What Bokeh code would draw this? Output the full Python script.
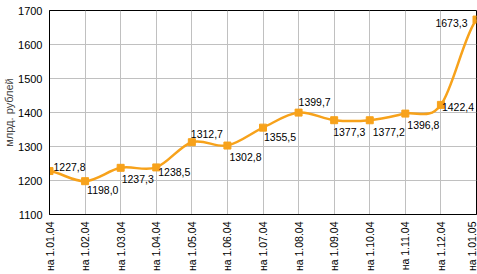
import numpy as np
from bokeh.plotting import figure
from bokeh.models import ColumnDataSource, FixedTicker, Range1d
from bokeh.core.properties import value
from bokeh.embed import file_html
from bokeh.resources import INLINE

dates = ["на 1.01.04", "на 1.02.04", "на 1.03.04", "на 1.04.04", "на 1.05.04",
         "на 1.06.04", "на 1.07.04", "на 1.08.04", "на 1.09.04", "на 1.10.04",
         "на 1.11.04", "на 1.12.04", "на 1.01.05"]
values = [1227.8, 1198.0, 1237.3, 1238.5, 1312.7, 1302.8, 1355.5,
          1399.7, 1377.3, 1377.2, 1396.8, 1422.4, 1673.3]
y_ticks = [1100, 1200, 1300, 1400, 1500, 1600, 1700]

# label placement (screen px offsets)
lab_dx = [4, 2, 1, 2, -1, 2, 1, 0, -1, 3, 2, 1, -9]
lab_dy = [-4, 9, 11, 5, -8, 11, 9, -11, 12, 12, 11, 2, 3]
lab_align = ["left"] * 12 + ["right"]

ORANGE = "#F7A21B"
FONT = "Liberation Sans"

n = len(values)
xs = np.arange(n, dtype=float)
ys = np.array(values, dtype=float)

p = figure(width=477, height=274, output_backend="svg", toolbar_location=None,
           x_range=Range1d(0, n - 1), y_range=Range1d(1100, 1700),
           min_border_left=48, min_border_right=1, min_border_top=10,
           min_border_bottom=58)
p.outline_line_color = "black"
p.outline_line_width = 1
p.background_fill_color = "white"
p.border_fill_color = "white"

# grid
p.xgrid.ticker = FixedTicker(ticks=list(range(n)))
p.ygrid.ticker = FixedTicker(ticks=y_ticks)
for g in (p.xgrid, p.ygrid):
    g.grid_line_color = "#C0C0C0"
    g.grid_line_width = 1

# axes
p.xaxis.ticker = FixedTicker(ticks=list(range(n)))
p.xaxis.major_label_overrides = {i: d for i, d in enumerate(dates)}
p.xaxis.major_label_orientation = np.pi / 2
p.yaxis.ticker = FixedTicker(ticks=y_ticks)
for ax in (p.xaxis, p.yaxis):
    ax.axis_line_color = "black"
    ax.major_tick_line_color = None
    ax.minor_tick_line_color = None
    ax.major_tick_out = 0
    ax.major_tick_in = 0
    ax.major_label_text_font = FONT
    ax.major_label_text_color = "black"
p.yaxis.major_label_text_font_size = "11px"
p.xaxis.major_label_text_font_size = "10.5px"
p.xaxis.major_label_standoff = 7
p.yaxis.major_label_standoff = 7
p.yaxis.axis_label = "млрд. рублей"
p.yaxis.axis_label_text_font = FONT
p.yaxis.axis_label_text_font_size = "11px"
p.yaxis.axis_label_text_font_style = "normal"
p.yaxis.axis_label_standoff = 0

# smooth curve (Catmull-Rom -> cubic bezier) through the data points
x0, y0, x1, y1, cx0, cy0, cx1, cy1 = [], [], [], [], [], [], [], []
for i in range(n - 1):
    pm = ys[i - 1] if i > 0 else ys[i]
    pp = ys[i + 2] if i + 2 < n else ys[i + 1]
    x0.append(xs[i]); y0.append(ys[i])
    x1.append(xs[i + 1]); y1.append(ys[i + 1])
    cx0.append(xs[i] + 1 / 3); cy0.append(ys[i] + (ys[i + 1] - pm) / 6)
    cx1.append(xs[i + 1] - 1 / 3); cy1.append(ys[i + 1] - (pp - ys[i]) / 6)
p.bezier(x0=x0, y0=y0, x1=x1, y1=y1, cx0=cx0, cy0=cy0, cx1=cx1, cy1=cy1,
         line_color=ORANGE, line_width=2.5)

src = ColumnDataSource(dict(
    x=xs, y=ys,
    txt=[f"{v:.1f}".replace(".", ",") for v in values],
    dx=lab_dx, dy=lab_dy, align=lab_align,
))
p.scatter("x", "y", source=src, marker="square", size=7,
          fill_color=ORANGE, line_color=ORANGE)
p.text("x", "y", text="txt", source=src, x_offset="dx", y_offset="dy",
       text_align="align", text_baseline="middle",
       text_font=value(FONT), text_font_size="10.5px", text_color="black")

open("out.html", "w").write(file_html(p, INLINE))
